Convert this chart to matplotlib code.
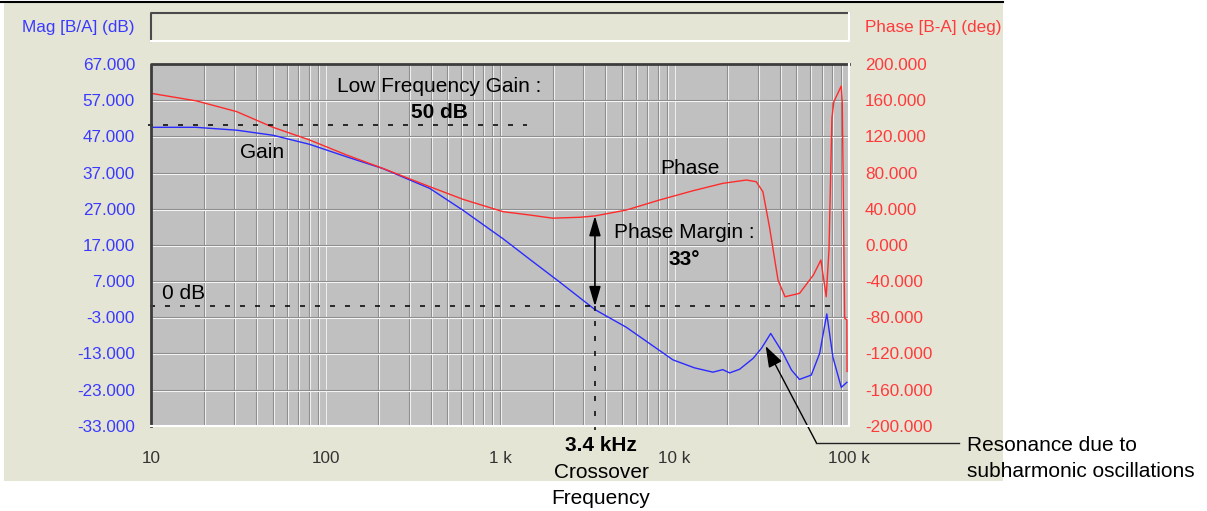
import matplotlib
matplotlib.use("Agg")
import matplotlib.pyplot as plt
from matplotlib.patches import Rectangle
from matplotlib.lines import Line2D

plt.rcParams['font.family'] = ['Liberation Sans', 'DejaVu Sans']
plt.rcParams['lines.scale_dashes'] = False

# ---------------- data ----------------
freq_mag = [10, 18, 31, 50, 81, 133, 213, 396, 612, 1040, 1500, 2200, 3500, 5300,
            9800, 13000, 16600, 18900, 20700, 23600, 28200, 31500, 35600, 41900,
            46800, 52000, 60800, 67900, 74600, 80900, 90300, 97300]
mag_db = [49.5, 49.5, 48.7, 47.3, 44.8, 41.3, 38.1, 32.6, 26.6, 18.7, 12.8, 6.7, -0.9, -5.8,
          -14.8, -17.0, -18.2, -17.5, -18.4, -17.4, -14.4, -11.6, -7.5, -13.0,
          -17.6, -20.2, -19.0, -13.0, -2.1, -14.1, -22.4, -21.0]

freq_ph = [10, 18.3, 31, 50, 81, 132, 213, 396, 615, 1040, 1480, 2000, 2870, 3500, 5300,
           8200, 12800, 18900, 25800, 29400, 32100, 35000, 39200, 43000, 52100, 62500,
           69000, 71500, 74000, 76800, 79800, 81900, 90300, 91500, 94400, 97200, 97500]
phase_deg = [167.6, 159.1, 147.3, 130, 116, 99.4, 84.6, 64.3, 50.3, 36.7, 33, 29.5, 30.5, 32, 38.5,
             49.6, 59.9, 68, 71.7, 69.8, 58.8, 20, -39, -57.4, -53.6, -33.4,
             -16.8, -37, -57.4, -5.7, 140, 158.3, 175.7, 158, -81, -83, -140]

mag_ticks = [67, 57, 47, 37, 27, 17, 7, -3, -13, -23, -33]
phase_ticks = [200, 160, 120, 80, 40, 0, -40, -80, -120, -160, -200]
freq_ticks = [10, 100, 1000, 10000, 100000]
freq_labels = ['10', '100', '1 k', '10 k', '100 k']

low_freq_gain = 50
crossover_f = 3.5e3
phase_at_crossover = 32
resonance_f = 33300
resonance_db = -11.0

# ---------------- styling ----------------
W, H = 1207, 511
BEIGE = '#e5e5d6'
BLUE_TXT = '#3a3aff'
RED_TXT = '#ff3a3a'
BLUE = '#2b2bff'
RED = '#ff2b2b'


def fx(x):
    return x / W


def fy(y):
    return 1 - y / H


fig = plt.figure(figsize=(W / 100, H / 100), dpi=100)
fig.patch.set_facecolor('white')

# beige panel
fig.add_artist(Rectangle((fx(4), fy(481)), fx(1003) - fx(4), fy(3) - fy(481),
                         transform=fig.transFigure, facecolor=BEIGE, edgecolor='none', zorder=-10))
fig.add_artist(Line2D([0, fx(1003)], [fy(2), fy(2)], transform=fig.transFigure,
                      color='black', lw=1.5, zorder=-9))
# header box
fig.add_artist(Line2D([fx(151), fx(151), fx(849)], [fy(41), fy(13), fy(13)], transform=fig.transFigure,
                      color='#4a4a4a', lw=1.5, zorder=-8))
fig.add_artist(Line2D([fx(151), fx(849), fx(849)], [fy(41), fy(41), fy(13)], transform=fig.transFigure,
                      color='white', lw=1.5, zorder=-8))

ax = fig.add_axes([fx(151), fy(425.7), fx(849) - fx(151), fy(64) - fy(425.7)])
ax.set_facecolor('#c0c0c0')
ax.set_xscale('log')
ax.set_xlim(10, 1e5)
ax.set_ylim(-33, 67)

# grid
px_dec = 10 ** (1 / 174.6)
px_db = 1 / 3.617
for d in [10, 100, 1000, 10000]:
    for m in range(1, 10):
        f = d * m
        if f <= 10:
            continue
        ax.axvline(f, color='#8a8a8a', lw=0.8, zorder=0.5)
        ax.axvline(f * px_dec, color='#eeeeee', lw=0.8, zorder=0.5)
for t in mag_ticks[1:-1]:
    ax.axhline(t, color='#8a8a8a', lw=0.8, zorder=0.5)
    ax.axhline(t - px_db, color='#f4f4f4', lw=0.8, zorder=0.5)

ax.plot(freq_mag, mag_db, color=BLUE, lw=1.0, zorder=2)

ax.set_yticks(mag_ticks)
ax.set_yticklabels([f'{t:.3f}' for t in mag_ticks])
ax.set_xticks(freq_ticks)
ax.set_xticklabels(freq_labels)
ax.minorticks_off()
ax.tick_params(axis='y', length=0, pad=11.5, labelsize=12.3, labelcolor=BLUE_TXT)
ax.tick_params(axis='x', length=0, pad=18, labelsize=12.3, labelcolor='#333333')
for s in ax.spines.values():
    s.set_visible(False)

ax2 = ax.twinx()
ax2.set_ylim(-200, 200)
ax2.set_xlim(10, 1e5)
ax2.plot(freq_ph, phase_deg, color=RED, lw=1.0, zorder=3)
ax2.set_yticks(phase_ticks)
ax2.set_yticklabels([f'{t:.3f}' for t in phase_ticks])
ax2.tick_params(axis='y', length=0, pad=11.5, labelsize=12.3, labelcolor=RED_TXT)
for s in ax2.spines.values():
    s.set_visible(False)


def m2p(db):
    return -200 + (db + 33) * 4.0


dash = dict(color='black', lw=1.1, dashes=(3.6, 7.2), clip_on=False, zorder=4)
ax2.plot([9.6, 1423], [m2p(low_freq_gain)] * 2, **dash)
ax2.plot([9.9, 88300], [m2p(0)] * 2, **dash)
ax2.plot([crossover_f] * 2, [m2p(0), m2p(-34.2)], **dash)

ax2.annotate('', xy=(crossover_f, m2p(0)), xytext=(crossover_f, phase_at_crossover),
             arrowprops=dict(arrowstyle='<|-|>,head_length=1.2,head_width=0.35', color='black',
                             lw=1.2, mutation_scale=10, shrinkA=0, shrinkB=0), zorder=5)
elbow_f, elbow_db = 65000, -37.7
ax2.annotate('', xy=(resonance_f, m2p(resonance_db)), xytext=(elbow_f, m2p(elbow_db)),
             arrowprops=dict(arrowstyle='-|>,head_length=1.3,head_width=0.45', color='black',
                             lw=1.0, mutation_scale=10, shrinkA=0, shrinkB=0),
             annotation_clip=False, zorder=5)
ax2.plot([elbow_f, 425000], [m2p(elbow_db)] * 2, color='#222222', lw=1.0, clip_on=False, zorder=5)
ax2.set_xlim(10, 1e5)
ax2.set_ylim(-200, 200)

# plot frame (3D inset look)
ax2.plot([0, 0, 1], [0, 1, 1], transform=ax2.transAxes, color='#3c3c3c', lw=2, clip_on=False, zorder=6)
ax2.plot([0, 1, 1], [0, 0, 1], transform=ax2.transAxes, color='white', lw=1.5, clip_on=False, zorder=6)

# axis headers
fig.text(fx(135), fy(27), 'Mag [B/A] (dB)', color=BLUE_TXT, fontsize=12.3, ha='right', va='center')
fig.text(fx(865), fy(27), 'Phase [B-A] (deg)', color=RED_TXT, fontsize=12.3, ha='left', va='center')

# annotations
FS = 15
fig.text(fx(439.5), fy(86), 'Low Frequency Gain :', fontsize=FS, ha='center', va='center')
fig.text(fx(439.5), fy(113), '50 dB', fontsize=FS, fontweight='bold', ha='center', va='center')
fig.text(fx(262), fy(153), 'Gain', fontsize=FS, ha='center', va='center')
fig.text(fx(690), fy(168), 'Phase', fontsize=FS, ha='center', va='center')
fig.text(fx(684), fy(233), 'Phase Margin :', fontsize=FS, ha='center', va='center')
fig.text(fx(684), fy(259), '33°', fontsize=FS, fontweight='bold', ha='center', va='center')
fig.text(fx(162.5), fy(293), '0 dB', fontsize=FS, ha='left', va='center')
fig.text(fx(601), fy(445), '3.4 kHz', fontsize=FS, fontweight='bold', ha='center', va='center')
fig.text(fx(601), fy(472), 'Crossover', fontsize=FS, ha='center', va='center')
fig.text(fx(601), fy(498), 'Frequency', fontsize=FS, ha='center', va='center')
fig.text(fx(967), fy(445), 'Resonance due to', fontsize=FS, ha='left', va='center')
fig.text(fx(967), fy(471), 'subharmonic oscillations', fontsize=FS, ha='left', va='center')

fig.savefig('out.png', dpi=100)
